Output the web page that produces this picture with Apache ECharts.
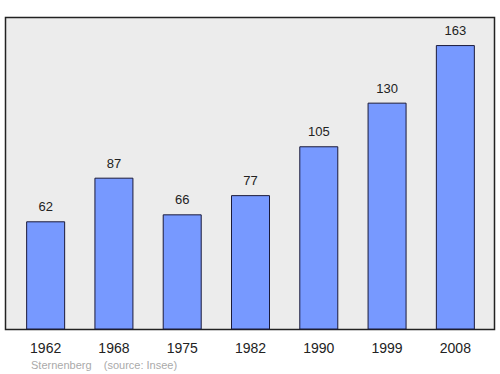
<!DOCTYPE html>
<html><head><meta charset="utf-8">
<script src="https://cdn.jsdelivr.net/npm/echarts@6/dist/echarts.min.js"></script>
<style>html,body{margin:0;padding:0;background:#fff}#c{width:500px;height:374px}</style>
</head><body><div id="c"></div>
<script>
const years = ['1962','1968','1975','1982','1990','1999','2008'];
const population = [62, 87, 66, 77, 105, 130, 163];
const sourceText = 'Sternenberg    (source: Insee)';

const chart = echarts.init(document.getElementById('c'), null, {renderer: 'svg'});
chart.setOption({
  animation: false,
  graphic: [
    {type: 'rect', z: -10, shape: {x: 5.5, y: 17.5, width: 489, height: 312},
     style: {fill: '#ececec', stroke: '#222', lineWidth: 1.5}},
    {type: 'text', left: 31, top: 359,
     style: {text: sourceText, fill: '#aaaaaa', font: '11px "Liberation Sans", Arial, sans-serif'}}
  ],
  grid: {left: 11.5, right: 10.5, top: 15.4, bottom: 44.5},
  xAxis: {
    type: 'category', data: years,
    axisLine: {show: false}, axisTick: {show: false},
    axisLabel: {color: '#222', fontSize: 14, margin: 11, fontFamily: '"Liberation Sans", Arial, sans-serif'}
  },
  yAxis: {type: 'value', min: 0, max: 180, show: false, splitLine: {show: false}},
  series: [{
    type: 'bar', data: population, barWidth: 39,
    itemStyle: {color: '#7799ff', borderColor: '#1a1a3a', borderWidth: 1},
    label: {show: true, position: 'top', distance: 8, color: '#222', fontSize: 13,
            fontFamily: '"Liberation Sans", Arial, sans-serif'}
  }]
});
</script></body></html>
